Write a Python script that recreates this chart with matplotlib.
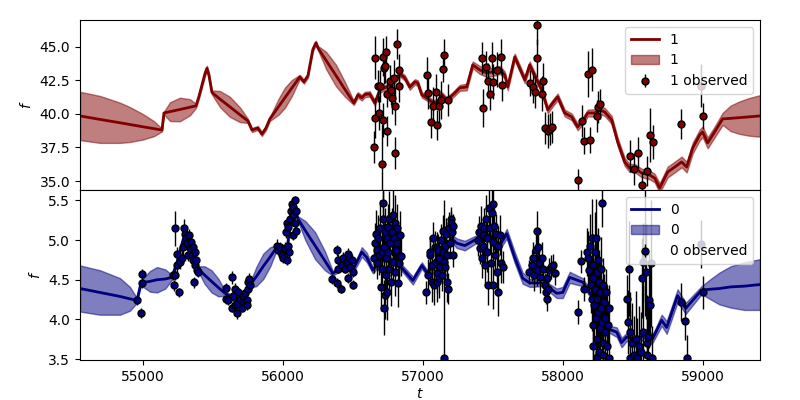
import numpy as np
import matplotlib
matplotlib.use("Agg")
import matplotlib.pyplot as plt

# band "1" (top panel): model mean and 1-sigma width
t_model1 = [54550, 54693, 54836, 54907, 55000, 55080, 55136,
            55150, 55193, 55264, 55336, 55379,
            55400, 55443, 55457, 55471, 55493,
            55550, 55621, 55693, 55750,
            55779, 55821, 55850, 55879, 55907,
            55970, 56014, 56064, 56121,
            56150, 56179, 56214, 56236, 56250,
            56310, 56379, 56443, 56507,
            56536, 56564, 56586, 56621, 56657, 56693, 56743, 56786, 56836, 56871,
            56907, 56943, 56964, 56993, 57029, 57064, 57100, 57136, 57171, 57214,
            57264, 57314, 57357, 57407, 57457, 57500, 57550, 57586, 57607, 57657,
            57707, 57729, 57764, 57814, 57850, 57893, 57929, 57964, 58014, 58064,
            58107, 58143, 58179, 58229, 58264, 58300, 58350, 58393, 58443, 58479,
            58514, 58564, 58621, 58657, 58693, 58750, 58800, 58850, 58886, 58929,
            58979, 59000, 59036, 59086, 59143, 59200, 59260, 59330, 59410]
mean1 = [39.85, 39.59, 39.34, 39.21, 39.04, 38.90, 38.80,
         40.07, 40.17, 40.33, 40.50, 40.60,
         41.30, 43.00, 43.40, 42.90, 41.60,
         41.11, 40.53, 39.94, 39.48,
         38.80, 38.95, 38.50, 38.95, 39.63,
         40.55, 41.20, 41.93, 42.76,
         42.40, 42.85, 44.80, 45.30, 44.93,
         43.97, 42.87, 41.84, 40.82,
         41.42, 41.20, 41.45, 41.49, 40.82, 41.79, 42.01, 42.31, 42.99, 42.69,
         42.00, 42.39, 42.31, 41.42, 41.19, 40.90, 40.82, 41.42, 41.04, 41.42,
         41.94, 42.01, 43.66, 43.28, 43.06, 43.13, 43.28, 42.91, 42.01, 44.25,
         43.06, 42.54, 43.66, 42.54, 41.79, 40.30, 40.82, 41.27, 40.07, 39.78,
         39.03, 39.48, 40.07, 40.07, 40.30, 40.15, 39.55, 37.91, 36.42, 35.97,
         35.97, 35.60, 35.45, 35.22, 34.48, 35.67, 36.04, 36.42, 36.04, 37.46,
         38.43, 38.66, 37.84, 38.66, 39.63, 39.67, 39.72, 39.78, 39.85]
std1 = [1.80, 1.75, 1.50, 1.30, 0.95, 0.55, 0.10,
        0.10, 0.70, 0.88, 0.60, 0.15,
        0.15, 0.20, 0.20, 0.20, 0.15,
        0.60, 0.75, 0.55, 0.15,
        0.15, 0.15, 0.15, 0.15, 0.15,
        0.60, 0.75, 0.60, 0.15,
        0.15, 0.15, 0.15, 0.15, 0.15,
        0.65, 0.80, 0.55, 0.15,
        0.20, 0.20, 0.20, 0.20, 0.20, 0.20, 0.20, 0.20, 0.20, 0.20,
        0.20, 0.20, 0.20, 0.20, 0.20, 0.20, 0.20, 0.20, 0.20, 0.20,
        0.22, 0.25, 0.25, 0.30, 0.30, 0.30, 0.30, 0.25, 0.25, 0.25,
        0.25, 0.25, 0.25, 0.25, 0.25, 0.25, 0.25, 0.25, 0.25, 0.25,
        0.25, 0.25, 0.25, 0.28, 0.30, 0.30, 0.30, 0.30, 0.30, 0.30,
        0.30, 0.32, 0.32, 0.32, 0.35, 0.40, 0.40, 0.40, 0.40, 0.40,
        0.40, 0.40, 0.40, 0.40, 0.45, 0.95, 1.20, 1.40, 1.55]

# band "1" observations
t_obs1 = [56650, 56657, 56657, 56679, 56686, 56693, 56707, 56714, 56714, 56721, 56729, 56736,
          56743, 56743, 56764, 56771, 56779, 56793, 56800, 56800, 56814, 56829, 56829,
          57029, 57036, 57057, 57071, 57093, 57100, 57114, 57129, 57143, 57150, 57179,
          57421, 57429, 57450, 57464, 57479, 57493, 57500, 57529, 57557, 57564,
          57764, 57786, 57800, 57814, 57814, 57850, 57857, 57871, 57893, 57907, 57921,
          58107, 58136, 58150, 58179, 58193, 58207, 58243, 58250, 58264,
          58479, 58507, 58536, 58564, 58600, 58621, 58643, 58843, 58986, 59000]
f_obs1 = [37.54, 44.18, 39.70, 42.09, 40.07, 42.09, 36.27, 44.25, 39.55, 43.43, 43.58, 44.63,
          41.49, 38.73, 42.46, 41.79, 41.19, 42.69, 40.60, 37.09, 45.22, 43.28, 42.09,
          42.91, 41.57, 39.40, 40.60, 41.64, 39.18, 40.60, 41.04, 43.36, 44.40, 41.04,
          44.18, 40.45, 43.51, 42.46, 41.49, 44.18, 42.39, 43.28, 44.25, 42.16,
          42.31, 42.01, 41.64, 46.64, 44.18, 41.49, 42.46, 38.96, 38.73, 38.88, 39.03,
          35.07, 39.48, 37.99, 42.99, 38.06, 43.28, 39.85, 40.52, 40.75,
          36.87, 35.90, 37.09, 34.70, 35.75, 38.43, 37.91, 39.25, 42.09, 39.85]
e_obs1 = [1.2, 1.6, 1.5, 1.2, 1.3, 1.2, 3.0, 1.4, 1.3, 1.2, 1.3, 1.2,
          1.0, 1.1, 1.2, 1.1, 1.2, 1.3, 1.4, 1.2, 1.1, 1.2, 1.2,
          1.3, 1.2, 1.2, 1.4, 1.3, 1.1, 1.2, 1.4, 1.0, 1.2, 1.2,
          1.2, 1.4, 1.2, 1.3, 1.2, 1.2, 1.3, 1.3, 1.3, 1.2,
          1.0, 1.2, 1.2, 1.5, 1.4, 1.3, 1.3, 1.2, 1.3, 1.2, 1.2,
          0.8, 1.2, 1.0, 1.7, 1.0, 1.6, 1.2, 1.2, 1.1,
          1.2, 1.2, 1.2, 1.0, 1.1, 2.0, 1.3, 1.1, 1.6, 1.0]

# band "0" (bottom panel): model mean and 1-sigma width
t_model0 = [54550, 54693, 54836, 54907, 54957,
            54986, 55050, 55100, 55160, 55207,
            55243, 55286, 55307, 55350, 55393,
            55440, 55490, 55540, 55586, 55671, 55764,
            55810, 55860, 55910, 55957, 56029, 56071, 56107,
            56160, 56230, 56300, 56357, 56443, 56500, 56564, 56600, 56643,
            56729, 56836, 56929, 56993, 57029, 57107, 57207, 57243, 57300, 57372,
            57479, 57550, 57600, 57657, 57714, 57764, 57857, 57957, 58000, 58050,
            58143, 58229, 58314, 58386, 58421, 58457, 58529, 58600, 58643, 58707,
            58743, 58821, 58879, 58993, 59050, 59120, 59200, 59300, 59410]
mean0 = [4.39, 4.34, 4.29, 4.26, 4.24,
         4.46, 4.48, 4.50, 4.51, 4.53,
         4.72, 5.00, 5.08, 4.90, 4.64,
         4.56, 4.48, 4.40, 4.33, 4.24, 4.43,
         4.54, 4.67, 4.79, 4.91, 4.87, 5.47, 5.27,
         5.12, 4.93, 4.74, 4.58, 4.68, 4.62, 4.85, 4.78, 4.62,
         4.80, 4.68, 4.49, 4.68, 4.59, 4.72, 5.02, 4.96, 4.93, 5.00,
         5.06, 4.93, 5.08, 4.78, 4.52, 4.46, 4.46, 4.33, 4.34, 4.53,
         4.47, 4.24, 3.89, 3.84, 3.71, 3.78, 3.74, 3.83, 3.76, 3.99,
         3.90, 4.30, 4.14, 4.37, 4.38, 4.39, 4.41, 4.42, 4.44]
std0 = [0.29, 0.28, 0.23, 0.15, 0.03,
        0.03, 0.13, 0.16, 0.12, 0.03,
        0.03, 0.03, 0.03, 0.03, 0.03,
        0.11, 0.14, 0.11, 0.03, 0.03, 0.03,
        0.12, 0.16, 0.12, 0.03, 0.03, 0.03, 0.03,
        0.12, 0.17, 0.12, 0.03, 0.03, 0.04, 0.06, 0.06, 0.04,
        0.04, 0.04, 0.05, 0.04, 0.04, 0.04, 0.05, 0.06, 0.06, 0.05,
        0.04, 0.05, 0.06, 0.07, 0.07, 0.05, 0.04, 0.06, 0.07, 0.07,
        0.05, 0.04, 0.04, 0.06, 0.06, 0.05, 0.05, 0.05, 0.05, 0.07,
        0.08, 0.08, 0.07, 0.05, 0.12, 0.20, 0.26, 0.30, 0.32]

# band "0" observations
t_obs0 = [54957, 54986, 54993, 54993,
          55214, 55221, 55229, 55229, 55243, 55243, 55257, 55264, 55279, 55286, 55293, 55300,
          55307, 55314, 55321, 55329, 55336, 55343, 55350, 55357, 55357, 55364, 55371, 55371,
          55379, 55386, 55393,
          55593, 55593, 55607, 55636, 55636, 55643, 55657, 55657, 55671, 55671, 55679, 55693,
          55707, 55714, 55721, 55729, 55743, 55743, 55750, 55750, 55757, 55764,
          55957, 55964, 55979, 55993, 56000, 56014, 56021, 56029, 56029, 56036, 56036, 56043,
          56050, 56057, 56064, 56071, 56071, 56071, 56086, 56086, 56093, 56093,
          56350, 56386, 56386, 56393, 56393, 56414, 56421, 56429, 56443, 56457, 56464, 56464,
          56471, 56479, 56493, 56500, 56500,
          56650, 56657, 56664, 56671, 56671, 56679, 56686, 56693, 56700, 56707, 56707, 56714,
          56714, 56721, 56721, 56729, 56729, 56736, 56736, 56743, 56743, 56750, 56750, 56757,
          56757, 56764, 56771, 56779, 56786, 56786, 56793, 56800, 56800, 56807, 56814, 56814,
          56821, 56829, 56829, 56836, 56843,
          57021, 57036, 57050, 57050, 57064, 57064, 57071, 57079, 57086, 57093, 57100, 57100,
          57100, 57107, 57107, 57114, 57114, 57121, 57129, 57136, 57143, 57143, 57150, 57150,
          57157, 57157, 57164, 57171, 57171, 57179, 57186, 57193, 57200, 57200, 57207, 57214,
          57214,
          57393, 57400, 57407, 57414, 57421, 57429, 57429, 57436, 57443, 57450, 57457, 57457,
          57464, 57471, 57479, 57486, 57493, 57500, 57500, 57500, 57507, 57514, 57521, 57529,
          57536, 57536, 57550, 57557, 57571,
          57757, 57779, 57786, 57793, 57807, 57814, 57814, 57821, 57829, 57836, 57850, 57857,
          57871, 57879, 57886, 57886, 57893, 57900, 57914, 57929, 57943,
          58107, 58129, 58150, 58171, 58179, 58186, 58193, 58200, 58207, 58207, 58214, 58214,
          58214, 58214, 58221, 58229, 58229, 58236, 58236, 58243, 58243, 58243, 58243, 58250,
          58250, 58257, 58257, 58264, 58264, 58271, 58271, 58279, 58279, 58286, 58286, 58286,
          58293, 58300, 58300, 58307, 58314, 58314, 58321, 58329, 58329,
          58457, 58464, 58471, 58479, 58479, 58493, 58507, 58521, 58529, 58543, 58557, 58564,
          58571, 58571, 58586, 58593, 58600, 58600, 58607, 58614, 58621, 58629, 58636,
          58843, 58871, 58886, 58986, 59000]
f_obs0 = [4.24, 4.08, 4.46, 4.57,
          4.56, 4.43, 4.56, 5.15, 4.68, 4.83, 4.34, 4.72, 4.78, 4.91, 5.15, 5.08,
          5.02, 4.96, 4.81, 5.06, 4.90, 4.98, 4.81, 4.75, 4.91, 4.47, 4.68, 4.85,
          4.75, 4.62, 4.60,
          4.40, 4.26, 4.24, 4.53, 4.15, 4.30, 4.39, 4.18, 4.08, 4.20, 4.34, 4.26,
          4.15, 4.30, 4.22, 4.33, 4.24, 4.18, 4.39, 4.47, 4.51, 4.43,
          4.93, 4.87, 4.91, 4.81, 4.77, 4.90, 5.10, 4.75, 5.21, 4.93, 5.17, 4.85,
          5.27, 5.37, 5.46, 5.31, 5.41, 5.06, 5.50, 5.21, 5.37, 5.12,
          4.51, 4.87, 4.46, 4.75, 4.64, 4.39, 4.68, 4.78, 4.64, 4.72, 4.52, 4.83,
          4.78, 4.66, 4.75, 4.44, 4.60,
          4.78, 4.96, 5.08, 4.87, 4.71, 5.02, 4.81, 5.15, 4.41, 4.64, 4.85, 5.27,
          5.47, 4.91, 4.15, 5.10, 4.31, 4.56, 4.77, 5.02, 4.34, 5.16, 4.85, 4.64,
          5.27, 4.96, 4.47, 5.10, 5.31, 4.72, 5.03, 4.60, 5.22, 4.87, 5.15, 4.96,
          4.46, 4.78, 4.71, 5.06, 4.80,
          4.34, 4.56, 4.81, 4.85, 4.68, 4.47, 5.03, 4.43, 4.91, 4.72, 4.47, 4.58,
          4.90, 4.75, 4.87, 4.52, 4.78, 4.66, 5.00, 4.56, 4.85, 5.12, 4.72, 3.51,
          4.93, 4.66, 5.08, 4.47, 4.81, 4.39, 5.15, 4.96, 5.27, 5.21, 5.10, 5.18,
          4.81,
          5.00, 5.10, 4.90, 5.18, 4.77, 5.06, 4.93, 5.15, 4.68, 5.27, 5.02, 4.85,
          4.43, 5.40, 5.15, 4.71, 5.34, 4.98, 4.43, 5.46, 5.18, 4.81, 5.08, 4.60,
          4.34, 4.93, 5.06, 4.71, 4.66,
          4.60, 4.68, 4.77, 4.56, 4.87, 5.12, 4.62, 4.91, 4.71, 4.53, 4.78, 4.64,
          4.43, 4.34, 4.26, 4.52, 4.39, 4.62, 4.66, 4.68, 4.58,
          4.09, 4.73, 4.38, 4.85, 4.77, 4.62, 4.93, 4.43, 5.02, 4.26, 4.52, 3.93,
          4.68, 3.67, 4.18, 4.85, 4.39, 4.02, 5.02, 3.76, 4.60, 4.26, 3.53, 4.75,
          4.09, 3.59, 4.47, 3.89, 4.34, 4.64, 4.14, 3.97, 5.47, 4.43, 3.71, 3.55,
          4.22, 4.02, 3.84, 4.34, 4.14, 3.67, 3.93, 4.14, 3.52,
          4.26, 3.97, 4.64, 3.84, 3.52, 3.71, 3.55, 3.76, 3.52, 3.67, 3.59, 4.52,
          3.84, 4.72, 4.85, 4.60, 3.71, 3.55, 3.78, 4.24, 4.18, 4.71, 3.52,
          4.22, 3.98, 3.51, 4.95, 4.34]
e_obs0 = [0.06, 0.06, 0.06, 0.06,
          0.06, 0.07, 0.06, 0.22, 0.08, 0.08, 0.06, 0.08, 0.10, 0.10, 0.12, 0.10,
          0.10, 0.08, 0.08, 0.08, 0.08, 0.08, 0.08, 0.07, 0.07, 0.07, 0.07, 0.07,
          0.07, 0.07, 0.06,
          0.06, 0.06, 0.06, 0.08, 0.06, 0.07, 0.07, 0.06, 0.07, 0.06, 0.06, 0.06,
          0.06, 0.07, 0.06, 0.06, 0.06, 0.06, 0.07, 0.07, 0.07, 0.07,
          0.08, 0.06, 0.07, 0.07, 0.06, 0.07, 0.07, 0.06, 0.07, 0.07, 0.06, 0.06,
          0.07, 0.07, 0.06, 0.07, 0.06, 0.06, 0.06, 0.06, 0.07, 0.06,
          0.06, 0.07, 0.06, 0.07, 0.06, 0.06, 0.07, 0.07, 0.06, 0.07, 0.06, 0.07,
          0.07, 0.06, 0.07, 0.06, 0.06,
          0.20, 0.25, 0.30, 0.25, 0.20, 0.30, 0.25, 0.35, 0.30, 0.25, 0.25, 0.35,
          0.40, 0.30, 0.35, 0.30, 0.30, 0.30, 0.25, 0.30, 0.35, 0.30, 0.30, 0.30,
          0.35, 0.25, 0.30, 0.30, 0.35, 0.25, 0.30, 0.30, 0.35, 0.30, 0.30, 0.25,
          0.30, 0.25, 0.25, 0.30, 0.25,
          0.15, 0.20, 0.20, 0.20, 0.20, 0.25, 0.20, 0.25, 0.20, 0.20, 0.25, 0.25,
          0.20, 0.20, 0.20, 0.25, 0.20, 0.20, 0.20, 0.20, 0.20, 0.20, 0.20, 2.00,
          0.25, 0.20, 0.20, 0.25, 0.20, 0.20, 0.20, 0.20, 0.15, 0.15, 0.15, 0.15,
          0.15,
          0.20, 0.20, 0.20, 0.25, 0.25, 0.20, 0.20, 0.25, 0.25, 0.30, 0.25, 0.25,
          0.25, 0.35, 0.30, 0.30, 0.35, 0.25, 0.30, 0.35, 0.30, 0.25, 0.25, 0.30,
          0.30, 0.25, 0.25, 0.25, 0.20,
          0.15, 0.20, 0.20, 0.20, 0.20, 0.25, 0.20, 0.20, 0.20, 0.20, 0.20, 0.15,
          0.15, 0.15, 0.15, 0.15, 0.15, 0.15, 0.15, 0.15, 0.15,
          0.15, 0.15, 0.15, 0.30, 0.35, 0.30, 0.40, 0.35, 0.50, 0.40, 0.40, 0.45,
          0.40, 0.50, 0.45, 0.50, 0.40, 0.45, 0.50, 0.50, 0.40, 0.45, 0.50, 0.40,
          0.45, 0.50, 0.40, 0.45, 0.40, 0.40, 0.40, 0.40, 0.30, 0.35, 0.40, 0.40,
          0.35, 0.35, 0.35, 0.30, 0.30, 0.35, 0.30, 0.30, 0.35,
          0.30, 0.40, 0.60, 0.50, 0.60, 0.50, 0.50, 0.60, 0.50, 0.50, 0.50, 0.50,
          0.60, 0.50, 0.80, 0.60, 0.60, 0.60, 0.50, 0.60, 0.50, 0.80, 0.40,
          0.24, 0.24, 0.30, 0.30, 0.21]


def draw_band(ax, t_model, mean, std, t_obs, f_obs, e_obs, color, name):
    mean = np.array(mean)
    std = np.array(std)
    ax.plot(t_model, mean, color=color, lw=2, label=name)
    ax.fill_between(t_model, mean - std, mean + std, color=color, alpha=0.5, label=name)
    ax.errorbar(t_obs, f_obs, yerr=e_obs, fmt='o', mfc=color, mec='k', ecolor='k',
                ms=5, mew=1, elinewidth=1, label=name + ' observed')
    ax.set_ylabel('$f$')
    ax.legend(loc='upper right')


fig, (ax1, ax0) = plt.subplots(2, 1, sharex=True, figsize=(8, 4))
fig.subplots_adjust(left=0.1, right=0.95, top=0.95, bottom=0.1, hspace=0)

draw_band(ax1, t_model1, mean1, std1, t_obs1, f_obs1, e_obs1, 'maroon', '1')
draw_band(ax0, t_model0, mean0, std0, t_obs0, f_obs0, e_obs0, 'navy', '0')

ax1.set_ylim(34.33, 47.0)
ax0.set_ylim(3.49, 5.63)
ax0.set_xlim(54550, 59410)
ax0.set_xlabel('$t$', labelpad=2)

fig.savefig('out.png', dpi=100)
